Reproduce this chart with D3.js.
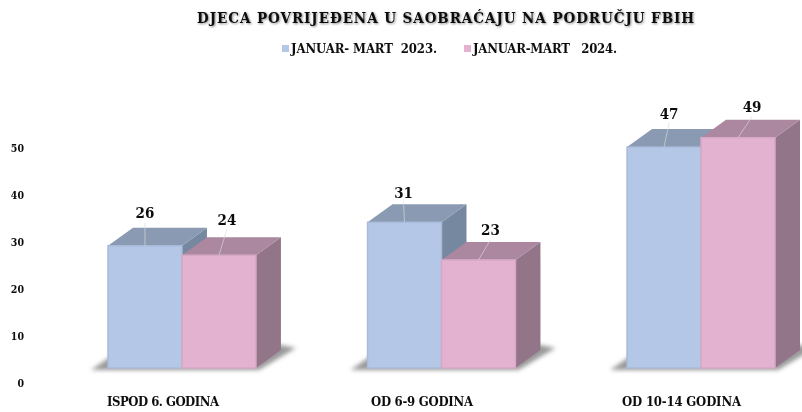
<!DOCTYPE html>
<html><head><meta charset="utf-8">
<script src="https://cdnjs.cloudflare.com/ajax/libs/d3/7.8.5/d3.min.js"></script>
<style>
html,body{margin:0;padding:0;background:#fff}
svg{display:block}
text{font-family:"DejaVu Serif Condensed","DejaVu Serif","Liberation Serif",serif;font-stretch:condensed;font-weight:700;fill:#0d0d0d}
</style></head><body>
<svg id="c" width="802" height="412"></svg>
<script>
const categories = ["ISPOD 6. GODINA", "OD 6-9 GODINA", "OD 10-14 GODINA"];
const seriesNames = ["JANUAR- MART  2023.", "JANUAR-MART   2024."];
const series2023 = [26, 31, 47];
const series2024 = [24, 23, 49];
const tickValues = [0, 10, 20, 30, 40, 50];
const titleText = "DJECA POVRIJEĐENA U SAOBRAĆAJU NA PODRUČJU FBIH";

const frontColors = ["#b4c7e7", "#e3b2d1"];
const topColors = ["#8a9ab3", "#ab87a0"];
const sideColors = ["#76889f", "#927489"];
const edgeColors = ["#a9bbd9", "#d6a8c5"];
const depthX = 25, depthY = 18, baseY = 368, unit = 4.7;

// leader-line offsets for the data labels, by series then category
const labelDx = [[0, -1, 5], [8, 12, 14]];
const labelDy = [[33, 30, 34], [36, 30, 31]];

const svg = d3.select("#c");
const defs = svg.append("defs");
defs.append("filter").attr("id", "soft").attr("x", "-5%").attr("y", "-5%").attr("width", "110%").attr("height", "110%")
  .append("feGaussianBlur").attr("stdDeviation", 0.4);
defs.append("filter").attr("id", "floor").attr("x", "-20%").attr("y", "-50%").attr("width", "140%").attr("height", "200%")
  .append("feGaussianBlur").attr("stdDeviation", 2);
defs.append("filter").attr("id", "glow").attr("x", "-5%").attr("y", "-50%").attr("width", "110%").attr("height", "200%")
  .append("feGaussianBlur").attr("stdDeviation", 1.2);

const x0 = d3.scaleBand().domain(categories).range([108, 775]).paddingInner(0.43).paddingOuter(0);
const x1 = d3.scaleBand().domain([0, 1]).range([0, x0.bandwidth()]);
const yBar = d3.scaleLinear().domain([0, 50]).range([baseY, baseY - 50 * unit]);
const yAxis = d3.scaleLinear().domain([0, 50]).range([383, 383 - 50 * unit]);

// title with its soft shadow
const tAttrs = s => s.attr("x", 197).attr("y", 22.5).attr("textLength", 497).attr("lengthAdjust", "spacing")
  .style("font-size", "15px").text(titleText);
svg.append("text").call(tAttrs).attr("transform", "translate(1,1.5)").style("fill", "#8a8a8a").attr("filter", "url(#glow)");
const root = svg.append("g").attr("filter", "url(#soft)");
root.append("text").call(tAttrs);

// legend
const legendX = [282, 464];
const legendW = [146, 144];
seriesNames.forEach((name, i) => {
  root.append("rect").attr("x", legendX[i]).attr("y", 45).attr("width", 7).attr("height", 7).attr("fill", frontColors[i]);
  root.append("text").attr("x", legendX[i] + 9).attr("y", 52.5).attr("xml:space", "preserve")
    .attr("textLength", legendW[i]).attr("lengthAdjust", "spacing")
    .style("white-space", "pre").style("font-size", "13px").text(name);
});

// axis
const axis = d3.axisLeft(yAxis).tickValues(tickValues).tickSize(0).tickPadding(0).tickFormat(d3.format("d"));
const ag = root.append("g").attr("transform", "translate(24,0)").call(axis);
ag.select(".domain").remove();
ag.selectAll("text").style("font-size", "10.5px")
  .style("font-family", '"DejaVu Serif Condensed","DejaVu Serif",serif').style("font-weight", 700).attr("fill", "#0d0d0d");

// category labels
const catLeft = [107, 371, 622];
const catWidth = [112, 102, 119];
root.selectAll("text.cat").data(categories).join("text").attr("class", "cat")
  .attr("x", (d, i) => catLeft[i]).attr("y", 405.5)
  .attr("textLength", (d, i) => catWidth[i]).attr("lengthAdjust", "spacing")
  .style("font-size", "13px").text(d => d);

// floor shadows
categories.forEach(c => {
  const l = x0(c), r = l + x0.bandwidth();
  root.append("polygon")
    .attr("points", [[l - 17, 370], [r + 3, 370], [r + 40, 348], [r + 25, 345], [l + 5, 355]].map(p => p.join(",")).join(" "))
    .attr("fill", "#9a9a9a").attr("filter", "url(#floor)");
});

// bars: drawn so that taller rear faces stay behind the neighbouring front face
const values = [series2023, series2024];
categories.forEach((c, ci) => {
  [0, 1].forEach(si => {
    const v = values[si][ci], l = x0(c) + x1(si), r = l + x1.bandwidth(), t = yBar(v);
    const g = root.append("g");
    g.append("polygon").attr("fill", sideColors[si])
      .attr("points", [[r, t], [r + depthX, t - depthY], [r + depthX, baseY - depthY], [r, baseY]].join(" "));
    g.append("polygon").attr("fill", topColors[si])
      .attr("points", [[l, t], [l + depthX, t - depthY], [r + depthX, t - depthY], [r, t]].join(" "));
    g.append("rect").attr("x", l).attr("y", t).attr("width", r - l).attr("height", baseY - t)
      .attr("fill", frontColors[si]).attr("stroke", edgeColors[si]).attr("stroke-width", 1.5);
  });
});

// leader lines and data labels
categories.forEach((c, ci) => {
  [0, 1].forEach(si => {
    const v = values[si][ci], cx = x0(c) + x1(si) + x1.bandwidth() / 2, t = yBar(v);
    const lx = cx + labelDx[si][ci], ly = t - labelDy[si][ci];
    root.append("line").attr("x1", cx).attr("y1", t).attr("x2", lx).attr("y2", ly + 10)
      .attr("stroke", "#d9d9d9").attr("stroke-width", 1).attr("opacity", 0.65);
    root.append("text").attr("x", lx).attr("y", ly + 5.5).attr("text-anchor", "middle")
      .style("font-size", "15px").text(v);
  });
});
</script>
</body></html>
